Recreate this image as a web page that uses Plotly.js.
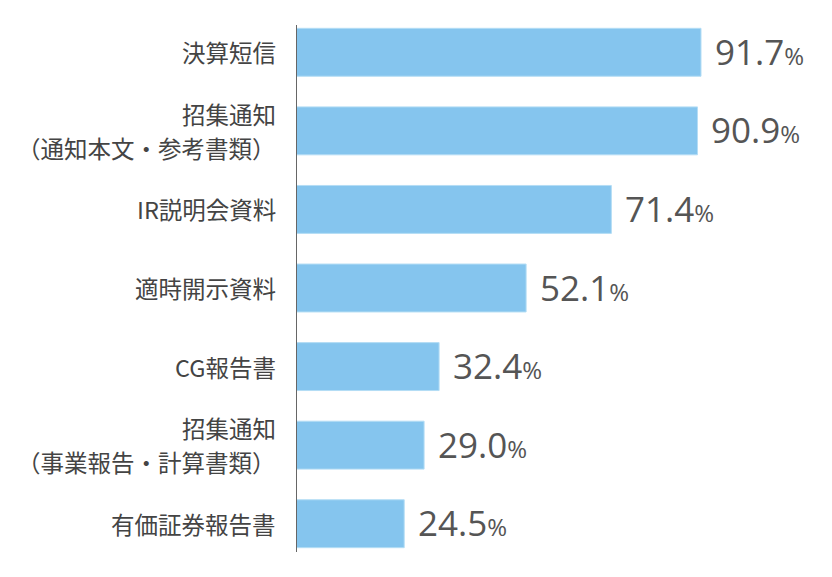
<!DOCTYPE html>
<html>
<head>
<meta charset="utf-8">
<script src="https://cdn.plot.ly/plotly-3.0.1.min.js"></script>
<style>html,body{margin:0;padding:0;background:#fff;}#chart{width:832px;height:577px;}</style>
</head>
<body>
<div id="chart"></div>
<script>
const categories = [
  "決算短信",
  "招集通知<br>（通知本文・参考書類）",
  "IR説明会資料",
  "適時開示資料",
  "CG報告書",
  "招集通知<br>（事業報告・計算書類）",
  "有価証券報告書"
];
const values = [91.7, 90.9, 71.4, 52.1, 32.4, 29.0, 24.5];

const annotations = [];
values.forEach((v, i) => {
  annotations.push({
    x: v, y: categories[i], xref: 'x', yref: 'y',
    xanchor: 'left', yanchor: 'middle', xshift: 12, yshift: 1,
    showarrow: false,
    text: v.toFixed(1) + '<span style="font-size:24px">%</span>',
    font: {family: '"Open Sans", "Noto Sans", sans-serif', size: 35, color: '#555555'}
  });
});
categories.forEach((c, i) => {
  const lines = c.split('<br>');
  const n = lines.length;
  lines.forEach((ln, k) => {
    annotations.push({
      x: 0, y: c, xref: 'x', yref: 'y',
      xanchor: 'right', yanchor: 'middle', xshift: -18,
      yshift: ((n - 1) / 2 - k) * 34,
      showarrow: false,
      text: ln,
      font: {family: '"Noto Sans CJK JP", sans-serif', size: 23.5, color: '#444444'}
    });
  });
});

const trace = {
  type: 'bar', orientation: 'h',
  x: values, y: categories,
  marker: {color: '#85C5EE', line: {color: '#B4DDF5', width: 1}},
  hoverinfo: 'none'
};

const layout = {
  width: 832, height: 577,
  margin: {l: 296, r: 6, t: 13, b: 14},
  paper_bgcolor: '#ffffff', plot_bgcolor: '#ffffff',
  showlegend: false,
  bargap: 0.39,
  xaxis: {range: [0, 120], visible: false, fixedrange: true},
  yaxis: {
    autorange: 'reversed', showline: false, showgrid: false, zeroline: false,
    showticklabels: false, ticks: ''
  },
  shapes: [{
    type: 'line', xref: 'x', yref: 'paper', x0: 0, x1: 0, y0: 0.02, y1: 0.978,
    line: {color: '#666666', width: 2}
  }],
  annotations: annotations
};

Plotly.newPlot('chart', [trace], layout, {staticPlot: true, displayModeBar: false});
</script>
</body>
</html>
